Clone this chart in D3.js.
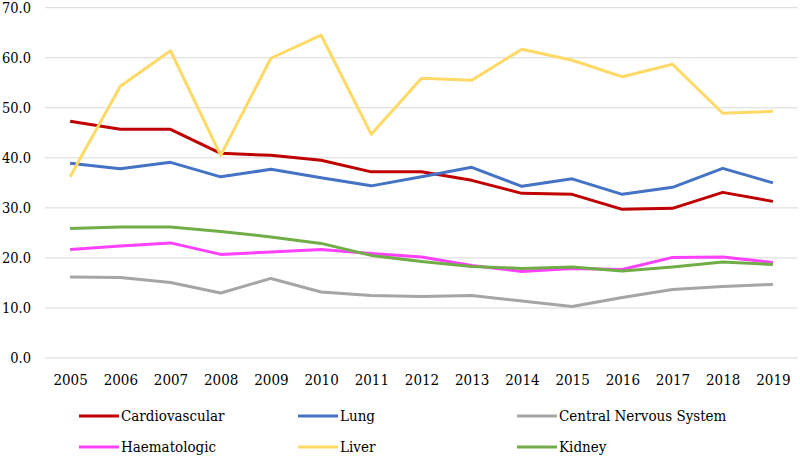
<!DOCTYPE html>
<html>
<head>
<meta charset="utf-8">
<script src="https://cdn.jsdelivr.net/npm/d3@7"></script>
<style>
  body { margin: 0; background: #fff; }
  svg text { fill: #000; }
</style>
</head>
<body>
<div id="chart"></div>
<script>
// data
var years = ["2005","2006","2007","2008","2009","2010","2011","2012","2013","2014","2015","2016","2017","2018","2019"];
var yTicks = [0, 10, 20, 30, 40, 50, 60, 70];

var cardiovascular = [47.3, 45.7, 45.7, 40.9, 40.5, 39.5, 37.2, 37.2, 35.5, 32.9, 32.7, 29.7, 29.9, 33.1, 31.3];
var lung           = [38.9, 37.8, 39.1, 36.2, 37.7, 36.0, 34.4, 36.2, 38.1, 34.3, 35.8, 32.7, 34.1, 37.9, 35.0];
var cns            = [16.2, 16.1, 15.1, 13.0, 15.9, 13.2, 12.5, 12.3, 12.5, 11.4, 10.3, 12.1, 13.7, 14.3, 14.7];
var haematologic   = [21.7, 22.4, 23.0, 20.7, 21.2, 21.7, 20.9, 20.2, 18.5, 17.3, 17.9, 17.7, 20.1, 20.2, 19.1];
var liver          = [36.2, 54.3, 61.4, 40.5, 59.9, 64.5, 44.7, 55.9, 55.5, 61.7, 59.5, 56.2, 58.7, 48.9, 49.3];
var kidney         = [25.9, 26.2, 26.2, 25.3, 24.2, 22.9, 20.5, 19.3, 18.3, 17.9, 18.2, 17.4, 18.2, 19.2, 18.7];

var seriesNames = ["Cardiovascular", "Lung", "Central Nervous System", "Haematologic", "Liver", "Kidney"];
var seriesValues = [cardiovascular, lung, cns, haematologic, liver, kidney];
var seriesColors = ["#C00000", "#4472C4", "#A5A5A5", "#FF40FF", "#FFD966", "#70AD47"];

// Liberation Serif isn't picked up here, condensed DejaVu is closest to Times width
var serifFont = "'DejaVu Serif Condensed', 'DejaVu Serif', serif";

var width = 800, height = 458;
var margin = { top: 7.7, right: 2, bottom: 100, left: 45 };
var plotW = width - margin.left - margin.right,
    plotH = height - margin.top - margin.bottom;

var svg = d3.select("#chart").append("svg")
    .attr("width", width)
    .attr("height", height)
    .attr("font-family", serifFont);

var g = svg.append("g")
    .attr("transform", "translate(" + margin.left + "," + margin.top + ")");

var x = d3.scalePoint()
    .domain(years)
    .range([0, plotW])
    .padding(0.5);

var y = d3.scaleLinear()
    .domain([0, 70])
    .range([plotH, 0]);

// horizontal gridlines
g.append("g")
    .selectAll("line")
    .data(yTicks)
  .enter().append("line")
    .attr("x1", 0)
    .attr("x2", plotW)
    .attr("y1", function(d) { return y(d); })
    .attr("y2", function(d) { return y(d); })
    .style("stroke", "#D9D9D9")
    .style("stroke-width", 1);

// y axis labels
var yAxis = d3.axisLeft(y)
    .tickValues(yTicks)
    .tickSize(0)
    .tickPadding(14)
    .tickFormat(d3.format(".1f"));

g.append("g")
    .attr("class", "y axis")
    .call(yAxis)
    .attr("font-family", serifFont)
    .attr("font-size", 14.5)
    .call(function(s) { s.select(".domain").remove(); });

// x axis labels
var xAxis = d3.axisBottom(x)
    .tickSize(0)
    .tickPadding(16);

g.append("g")
    .attr("class", "x axis")
    .attr("transform", "translate(0," + plotH + ")")
    .call(xAxis)
    .attr("font-family", serifFont)
    .attr("font-size", 15)
    .call(function(s) { s.select(".domain").remove(); });

// series lines
var line = d3.line()
    .x(function(d, i) { return x(years[i]); })
    .y(function(d) { return y(d); });

g.selectAll(".series")
    .data(seriesValues)
  .enter().append("path")
    .attr("class", "series")
    .attr("d", line)
    .style("fill", "none")
    .style("stroke", function(d, i) { return seriesColors[i]; })
    .style("stroke-width", 3)
    .style("stroke-linejoin", "round");

// legend, 3 columns x 2 rows
var legendX = [79, 298, 517],
    legendY = [416, 447];

var legend = svg.selectAll(".legend")
    .data(seriesNames)
  .enter().append("g")
    .attr("class", "legend")
    .attr("transform", function(d, i) {
      return "translate(" + legendX[i % 3] + "," + legendY[Math.floor(i / 3)] + ")";
    });

legend.append("line")
    .attr("x1", 0)
    .attr("x2", 40)
    .style("stroke", function(d, i) { return seriesColors[i]; })
    .style("stroke-width", 3);

legend.append("text")
    .attr("x", 42)
    .attr("dy", "0.35em")
    .attr("font-size", 15)
    .text(function(d) { return d; });
</script>
</body>
</html>
